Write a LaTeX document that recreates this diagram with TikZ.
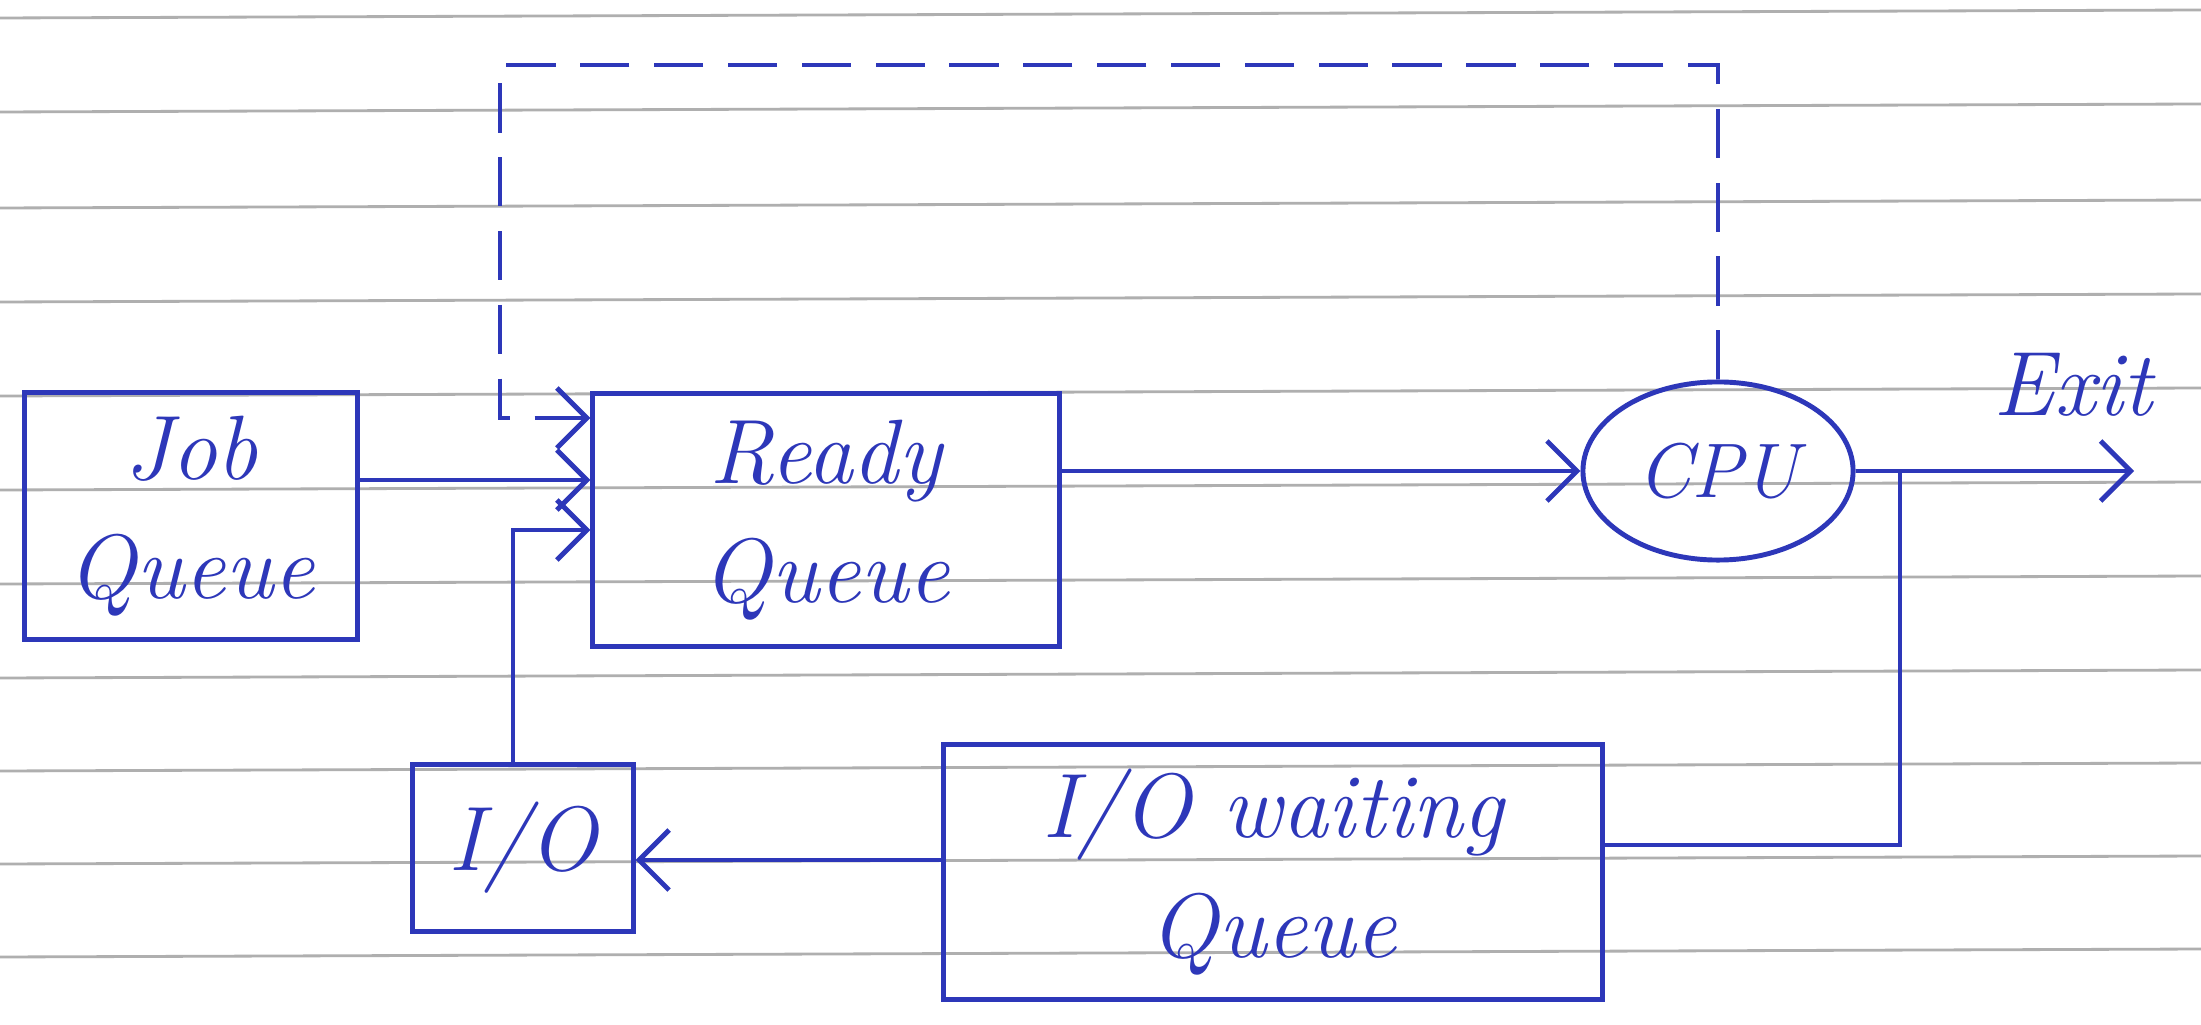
\documentclass[tikz,border=0pt]{standalone}
\usetikzlibrary{arrows.meta,shapes.geometric}
\definecolor{ink}{RGB}{45,55,185}
\definecolor{rulegray}{RGB}{175,175,175}
\begin{document}
\begin{tikzpicture}[x=0.01cm,y=-0.01cm,
  rule/.style={draw=rulegray,line width=0.8pt},
  box/.style={draw=ink,line width=1.4pt,rectangle,align=center,text=ink,font=\fontsize{26}{34}\selectfont\itshape,inner sep=0pt},
  oval/.style={draw=ink,line width=1.4pt,ellipse,text=ink,font=\fontsize{22}{26}\selectfont\itshape,inner sep=0pt},
  conn/.style={draw=ink,line width=1.4pt},
  arr/.style={conn,-{Straight Barb[length=3mm,width=6mm,line width=1.4pt]}},
  dsh/.style={arr,dash pattern=on 14pt off 7pt}]
\useasboundingbox (0,0) rectangle (2201,1025);
\fill[white] (0,0) rectangle (2201,1025);
\foreach \yy in {18,112,208,302,396,490,584,678,771,864,957}
  \draw[rule] (0,\yy) -- (2201,{\yy-8});

% nodes
\node[box,minimum width=3.33cm,minimum height=2.46cm] (job) at (191,516) {Job\\Queue};
\node[box,minimum width=4.66cm,minimum height=2.53cm] (ready) at (826,520) {Ready\\Queue};
\node[oval,minimum width=2.70cm,minimum height=1.78cm] (cpu) at (1718,471) {CPU};
\node[box,minimum width=2.20cm,minimum height=1.67cm] (io) at (523,848) {I/O};
\node[box,minimum width=6.59cm,minimum height=2.55cm] (wait) at (1273,872) {I/O waiting\\Queue};
\node[text=ink,font=\fontsize{26}{30}\selectfont\itshape] (exit) at (2073,385) {Exit};

% helper coordinates
\coordinate (exitend) at (2134,471);
\coordinate (yj) at (0,480);
\coordinate (ytop) at (500,65);
\coordinate (yd) at (0,418);
\coordinate (xio) at (513,0);
\coordinate (yio) at (0,530);
\coordinate (cw) at (1900,845);
\coordinate (yw) at (0,860);

% connectors
\draw[arr] (job.east |- yj) -- (ready.west |- yj);
\draw[arr] (ready.east |- cpu.west) -- (cpu.west);
\draw[arr] (cpu.east) -- (exitend);
\draw[conn] (cpu.east) -| (cw) -- (wait.east |- cw);
\draw[arr] (wait.west |- yw) -- (io.east |- yw);
\draw[arr] (io.north -| xio) |- (ready.west |- yio);
\draw[dsh] (cpu.north) |- (ytop) |- (ready.west |- yd);
\end{tikzpicture}
\end{document}
